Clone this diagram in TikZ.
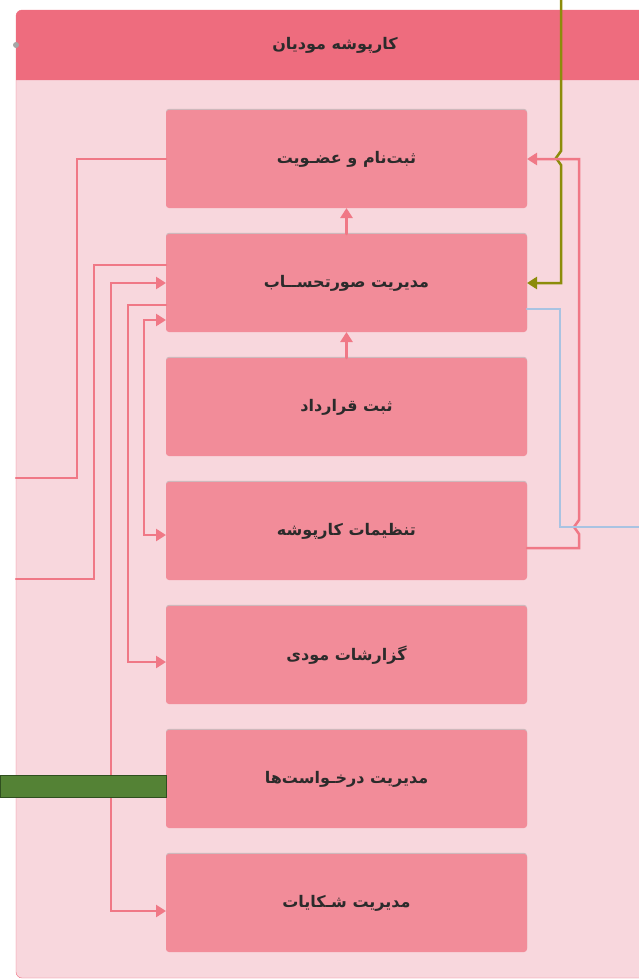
\documentclass[tikz,border=0pt]{standalone}
\usepackage{fontspec}
\newfontfamily\arabicfont[Script=Arabic]{DejaVu Sans}
\TeXXeTstate=1
\usepackage{tikz}
\usetikzlibrary{arrows.meta}
\tikzset{>={Triangle[length=10pt,width=12pt]}}
\usetikzlibrary{shadows,positioning}
\definecolor{panelbg}{HTML}{F8D7DD}
\definecolor{headbg}{HTML}{EE6C7E}
\definecolor{boxbg}{HTML}{F28C99}
\definecolor{linkpink}{HTML}{F07886}
\definecolor{linkolive}{HTML}{8C8C0A}
\definecolor{linkblue}{HTML}{A9C3E2}
\definecolor{bargreen}{HTML}{548235}
\definecolor{bardark}{HTML}{2F4F1F}
\definecolor{txt}{HTML}{2B2B2B}
\newcommand{\fa}[1]{\beginR #1\endR}
\tikzset{
  modbox/.style={rectangle, rounded corners=3pt, fill=boxbg,
    minimum width=361pt, minimum height=98pt, inner sep=0pt, outer sep=0pt,
    font=\arabicfont\bfseries\fontsize{16}{19}\selectfont, text=txt,
    drop shadow={shadow xshift=0pt, shadow yshift=1.2pt, opacity=.35}},
  headtext/.style={font=\arabicfont\bfseries\fontsize{16}{19}\selectfont, text=txt},
  link/.style={linkpink, line width=2.5pt},
}

\begin{document}
\begin{tikzpicture}[x=1pt,y=-1pt,line cap=round]
  \useasboundingbox (0,0) rectangle (639,980);
  \clip (0,0) rectangle (639,980);

  \filldraw[fill=panelbg, draw=headbg, rounded corners=6pt] (16,10) rectangle (690,978);
  \fill[headbg] (16,80) [rounded corners=6pt] -- (16,10) -- (690,10) [sharp corners] -- (690,80) -- cycle;
  \fill[gray!70] (16,45) circle (3);
  \node[headtext] (title) at (335,45) {\fa{کارپوشه مودیان}};

  \node[modbox] (reg) at (346.5,159) {\fa{ثبت^^^^200cنام و عضـویت}};
  \node[modbox, below=26pt of reg] (inv) {\fa{مدیریت صورتحســاب}};
  \node[modbox, below=26pt of inv] (ctr) {\fa{ثبت قرارداد}};
  \node[modbox, below=26pt of ctr] (cfg) {\fa{تنظیمات کارپوشه}};
  \node[modbox, below=26pt of cfg] (rep) {\fa{گزارشات مودی}};
  \node[modbox, below=26pt of rep] (req) {\fa{مدیریت درخـواست^^^^200cها}};
  \node[modbox, below=26pt of req] (cmp) {\fa{مدیریت شـکایات}};

  \draw[link,->] (inv.north) -- (reg.south);
  \draw[link,->] (ctr.north) -- (inv.south);

  \coordinate (outA) at (16,478);
  \coordinate (outB) at (16,579);
  \draw[link] (reg.west) -| (77,478) -- (outA);
  \draw[link] ([yshift=18pt]inv.west) -| (94,579) -- (outB);
  \draw[link,<->] (inv.west) -| (111,911) -- ([yshift=-8pt]cmp.west);
  \draw[link,->] ([yshift=-22pt]inv.west) -| (128,662) -- ([yshift=-7pt]rep.west);
  \draw[link,<->] ([yshift=-37pt]inv.west) -| (144,535) -- ([yshift=-4pt]cfg.west);

  \coordinate (olivetop) at (561,0);
  \coordinate (outC) at (639,527);
  \draw[linkolive, line width=2.5pt, ->] (olivetop) -- (561,151) -- (556,158) -- (561,165) |- (inv.east);
  \draw[link,->] ([yshift=-17pt]cfg.east) -| (579,534) -- (574,527) -- (579,520) |- (reg.east);
  \draw[linkblue, line width=2.5pt] ([yshift=-26pt]inv.east) -| (560,527) -- (outC);

  \draw[bardark, fill=bargreen] (0,775) rectangle ([yshift=-18pt]req.west);
\end{tikzpicture}
\end{document}
